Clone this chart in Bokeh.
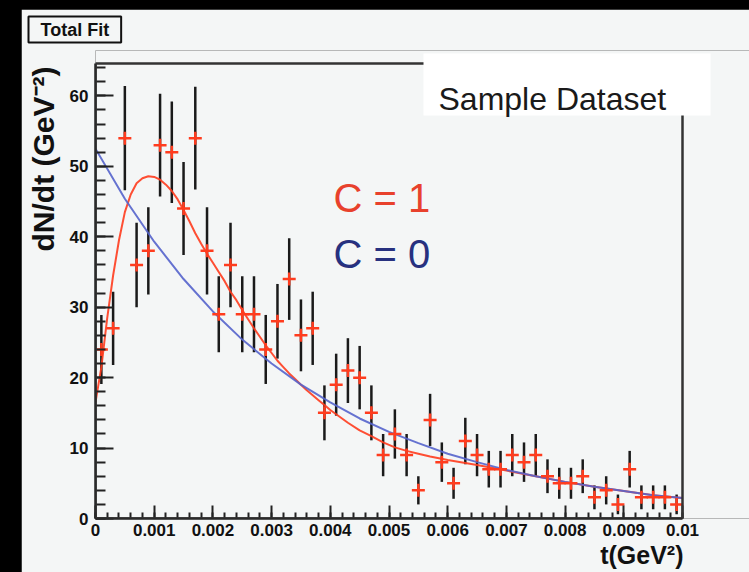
import math
from bokeh.plotting import figure
from bokeh.models import (Range1d, FixedTicker, CustomJSTickFormatter, Label, Title,
                          BoxAnnotation, ColumnDataSource, Spacer)
from bokeh.layouts import row, column
from bokeh.embed import file_html
from bokeh.resources import INLINE

# ---------------- data ----------------
t_bins = [0.0001, 0.0003, 0.0005, 0.0007, 0.0009, 0.0011, 0.0013, 0.0015, 0.0017, 0.0019,
          0.0021, 0.0023, 0.0025, 0.0027, 0.0029, 0.0031, 0.0033, 0.0035, 0.0037, 0.0039,
          0.0041, 0.0043, 0.0045, 0.0047, 0.0049, 0.0051, 0.0053, 0.0055, 0.0057, 0.0059,
          0.0061, 0.0063, 0.0065, 0.0067, 0.0069, 0.0071, 0.0073, 0.0075, 0.0077, 0.0079,
          0.0081, 0.0083, 0.0085, 0.0087, 0.0089, 0.0091, 0.0093, 0.0095, 0.0097, 0.0099]
counts = [24, 27, 54, 36, 38, 53, 52, 44, 54, 38,
          29, 36, 29, 29, 24, 28, 34, 26, 27, 15,
          19, 21, 20, 15, 9, 12, 9, 4, 14, 8,
          5, 11, 9, 7, 7, 9, 8, 9, 6, 5,
          5, 6, 3, 4, 2, 7, 3, 3, 3, 2]
count_err = [4.9, 5.2, 7.4, 6.0, 6.2, 7.3, 7.2, 6.6, 7.3, 6.2,
             5.4, 6.0, 5.4, 5.4, 4.9, 5.3, 5.8, 5.1, 5.2, 3.9,
             4.4, 4.6, 4.5, 3.9, 3.0, 3.5, 3.0, 2.0, 3.7, 2.8,
             2.2, 3.3, 3.0, 2.6, 2.6, 3.0, 2.8, 3.0, 2.4, 2.2,
             2.2, 2.4, 1.7, 2.0, 1.4, 2.6, 1.7, 1.7, 1.7, 1.4]

# fit with C = 1 (red)
fit_t_c1 = [0.0, 0.00005, 0.0001, 0.00015, 0.0002,
            0.0003, 0.0004, 0.0005, 0.0006, 0.0007, 0.0008, 0.0009, 0.001, 0.0011, 0.0012,
            0.0013, 0.0014, 0.0015, 0.0016, 0.0017, 0.0018, 0.0019, 0.002, 0.0021, 0.0022,
            0.0023, 0.0024, 0.0025, 0.0026, 0.0027, 0.0028, 0.0029, 0.003, 0.0031, 0.0032,
            0.0033, 0.0034, 0.0035, 0.0036, 0.0037, 0.0038, 0.0039, 0.004, 0.0041,
            0.0043, 0.0045, 0.0047, 0.0049, 0.0051, 0.0053, 0.0055, 0.0057,
            0.006, 0.0065, 0.007, 0.0075, 0.008, 0.0085, 0.009, 0.0095, 0.01]
fit_c1 = [16.5, 19.0, 21.5, 25.0, 28.5,
          34.5, 39.5, 43.5, 46.0, 47.6, 48.3, 48.6, 48.5, 48.1, 47.4,
          46.5, 45.3, 43.8, 42.2, 40.5, 39.0, 37.6, 36.3, 35.0, 33.7,
          32.2, 31.0, 29.6, 28.3, 27.0, 25.8, 24.6, 23.5, 22.4, 21.5,
          20.6, 19.8, 19.0, 18.2, 17.5, 16.8, 16.1, 15.4, 14.8,
          13.6, 12.5, 11.7, 10.8, 10.1, 9.6, 9.2, 8.8,
          8.3, 7.6, 6.8, 6.0, 5.2, 4.5, 3.9, 3.3, 2.9]

# fit with C = 0 (blue)
fit_t_c0 = [0.0, 0.0005, 0.001, 0.0015, 0.002, 0.0025, 0.003, 0.0035, 0.004, 0.0045, 0.005,
            0.0055, 0.006, 0.0065, 0.007, 0.0075, 0.008, 0.0085, 0.009, 0.0095, 0.01]
fit_c0 = [52.5, 45.4, 39.3, 34.0, 29.4, 25.4, 22.0, 19.0, 16.5, 14.2, 12.3,
          10.7, 9.2, 8.0, 6.9, 6.0, 5.2, 4.5, 3.9, 3.3, 2.9]

x_tick_values = [0, 0.001, 0.002, 0.003, 0.004, 0.005, 0.006, 0.007, 0.008, 0.009, 0.01]
y_tick_values = [0, 10, 20, 30, 40, 50, 60]

title_text = "Total Fit"
box_text = "Sample Dataset"
c1_text = "C = 1"
c0_text = "C = 0"
y_label = "dN/dt (GeV\u207b\u00b2)"
x_label = "t(GeV\u00b2)"

# ---------------- layout constants (pixels) ----------------
BG = "#f4f6f6"
RED = "#ff3c1e"
BLUE = "#5564cc"
FONT = "Liberation Sans"

X_MAX, Y_MAX = 0.01, 64.6          # the drawn histogram frame
W, H = 728, 563                    # figure size (page offset 21, 9)
B_LEFT, B_BOTTOM, B_TOP = 74, 54, 41
FRAME_W_ROOT, FRAME_H_ROOT = 587, 455   # pixel size of the histogram frame
frame_w = W - B_LEFT
frame_h = H - B_BOTTOM - B_TOP
x_end = X_MAX * frame_w / FRAME_W_ROOT
y_end = Y_MAX * frame_h / FRAME_H_ROOT

p = figure(width=W, height=H, output_backend="svg", toolbar_location=None,
           title=None, x_range=Range1d(0, x_end), y_range=Range1d(0, y_end),
           min_border_left=B_LEFT, min_border_right=0, min_border_top=B_TOP,
           min_border_bottom=B_BOTTOM)
p.border_fill_color = BG
p.background_fill_color = BG
p.outline_line_color = None
p.xgrid.visible = False
p.ygrid.visible = False

x_minor = [round(i * 0.0002, 4) for i in range(51)]
y_minor = list(range(0, 66, 2))
p.xaxis.ticker = FixedTicker(ticks=x_tick_values, minor_ticks=x_minor)
p.yaxis.ticker = FixedTicker(ticks=y_tick_values, minor_ticks=y_minor)
p.xaxis.formatter = CustomJSTickFormatter(code="return String(parseFloat(tick.toPrecision(6)));")
p.xaxis.bounds = (0, X_MAX)
p.yaxis.bounds = (0, Y_MAX)

for ax in (p.xaxis[0], p.yaxis[0]):
    ax.axis_line_color = "#222222"
    ax.axis_line_width = 2.5
    ax.major_tick_line_color = "#222222"
    ax.minor_tick_line_color = "#222222"
    ax.major_tick_line_width = 2
    ax.minor_tick_line_width = 2
    ax.major_tick_out = 0
    ax.minor_tick_out = 0
    ax.major_label_text_font = FONT
    ax.major_label_text_font_style = "bold"
    ax.major_label_text_font_size = "17px"
    ax.major_label_text_color = "#111111"

p.xaxis.major_tick_in = 13
p.xaxis.minor_tick_in = 6
p.xaxis.major_label_standoff = 5
p.yaxis.major_tick_in = 18
p.yaxis.minor_tick_in = 10
p.yaxis.major_label_standoff = 7

# histogram frame (top and right edges)
p.add_layout(BoxAnnotation(left=0, right=X_MAX, bottom=0, top=Y_MAX,
                           fill_alpha=0, line_color="#333333", line_alpha=1.0,
                           line_width=2.5))

# ---------------- data marks ----------------
src = ColumnDataSource(dict(
    t=t_bins, n=counts,
    lo=[n - e for n, e in zip(counts, count_err)],
    hi=[n + e for n, e in zip(counts, count_err)],
))
p.segment(x0="t", y0="lo", x1="t", y1="hi", source=src, line_color="#1a1a1a", line_width=2.5)
p.line(fit_t_c1, fit_c1, line_color=RED, line_width=2, line_alpha=0.9)
p.line(fit_t_c0, fit_c0, line_color=BLUE, line_width=2, line_alpha=0.9)
p.scatter(x="t", y="n", source=src, marker="cross", size=13, line_color=RED, line_width=2.5)

# ---------------- texts ----------------
# white "Sample Dataset" box (screen units relative to the frame's bottom-left)
p.add_layout(BoxAnnotation(left=328, right=615, bottom=403, top=465,
                           left_units="screen", right_units="screen",
                           bottom_units="screen", top_units="screen",
                           fill_color="#ffffff", fill_alpha=1.0, line_color=None))
p.add_layout(Label(x=343, y=420, x_units="screen", y_units="screen", text=box_text,
                   text_font=FONT, text_font_size="32px", text_color="#1a1a1a",
                   text_align="left", text_baseline="alphabetic"))

p.add_layout(Label(x=238, y=321, x_units="screen", y_units="screen", text=c1_text,
                   text_font=FONT, text_font_size="40px", text_color="#e8412c",
                   text_baseline="alphabetic"))
p.add_layout(Label(x=238, y=265, x_units="screen", y_units="screen", text=c0_text,
                   text_font=FONT, text_font_size="40px", text_color="#27317f",
                   text_baseline="alphabetic"))

# panel titles outside the frame
p.add_layout(Title(text=title_text, align="left", offset=-67, standoff=12,
                   vertical_align="top",
                   text_font=FONT, text_font_style="bold", text_font_size="18px",
                   text_color="#111111", background_fill_color=BG,
                   border_line_color="#111111", border_line_width=2,
                   padding=(12, 3)), "above")
p.add_layout(Title(text=y_label, align="right", offset=16, standoff=10,
                   vertical_align="top",
                   text_font=FONT, text_font_style="bold", text_font_size="30px",
                   text_color="#111111"), "left")
p.add_layout(Title(text=x_label, align="right", offset=66, standoff=0,
                   text_font=FONT, text_font_style="bold", text_font_size="25px",
                   text_color="#111111"), "below")

layout = row(Spacer(width=21, height=572),
             column(Spacer(width=W, height=9), p))

html = file_html(layout, INLINE)
html = html.replace("</head>", "<style>html,body{background:#000;margin:0;}</style></head>", 1)
open("out.html", "w").write(html)
